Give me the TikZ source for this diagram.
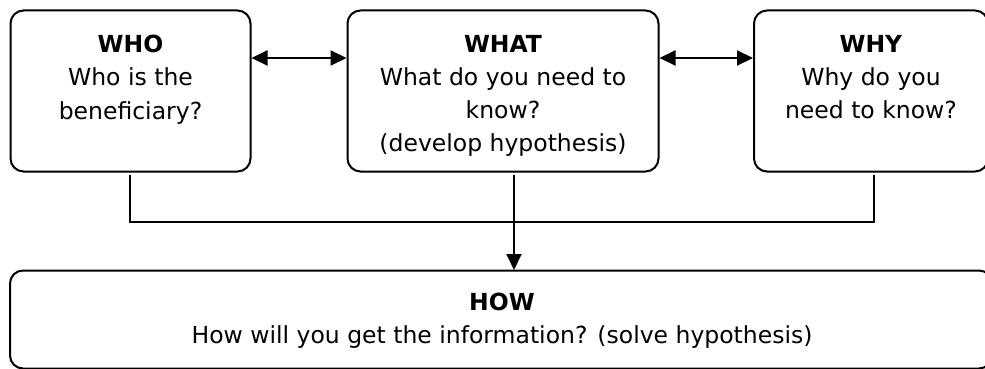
\documentclass[tikz,border=0pt]{standalone}
\usepackage{fontspec}
\setmainfont{DejaVu Sans}
\usetikzlibrary{arrows.meta}
\tikzset{
  box/.style={draw, line width=2pt, rounded corners=13pt, inner sep=0pt},
  txt/.style={align=center, font=\fontsize{23.5}{33.2}\selectfont, inner sep=0pt, anchor=north},
  conn/.style={line width=1.6pt},
  arr/.style={line width=2pt, -{Triangle[length=16pt,width=15pt]}},
  darr/.style={line width=2pt, {Triangle[length=16pt,width=15pt]}-{Triangle[length=16pt,width=15pt]}}
}
\begin{document}
\begin{tikzpicture}[x=1pt,y=-1pt]
\useasboundingbox (0,0) rectangle (985,369);
\node[box, minimum width=240pt, minimum height=161pt] (who) at (130.5,91) {};
\node[box, minimum width=311pt, minimum height=161pt] (what) at (503,91) {};
\node[box, minimum width=234pt, minimum height=161pt] (why) at (871,91) {};
\node[box, minimum width=982pt, minimum height=98pt] (how) at (501,319.5) {};
\node[txt] (whot) at (130.5,35) {\textbf{WHO}\\Who is the\\beneficiary?};
\node[txt] (whatt) at (503,35) {\textbf{WHAT}\\What do you need to\\know?\\(develop hypothesis)};
\node[txt] (whyt) at (871,35) {\textbf{WHY}\\Why do you\\need to know?};
\node[txt] (howt) at (502,293) {\textbf{HOW}\\How will you get the information? (solve hypothesis)};
\draw[darr] ([yshift=33pt]who.east) -- ([yshift=33pt]what.west);
\draw[darr] ([yshift=33pt]what.east) -- ([yshift=33pt]why.west);
\coordinate (wl) at (130,175);
\coordinate (jl) at (130,222);
\coordinate (jr) at (874,222);
\coordinate (wr) at (874,175);
\coordinate (ws) at (514,175);
\coordinate (he) at (514,270);
\draw[conn] (wl) -- (jl) -- (jr) -- (wr);
\draw[arr] (ws) -- (he);
\end{tikzpicture}
\end{document}
